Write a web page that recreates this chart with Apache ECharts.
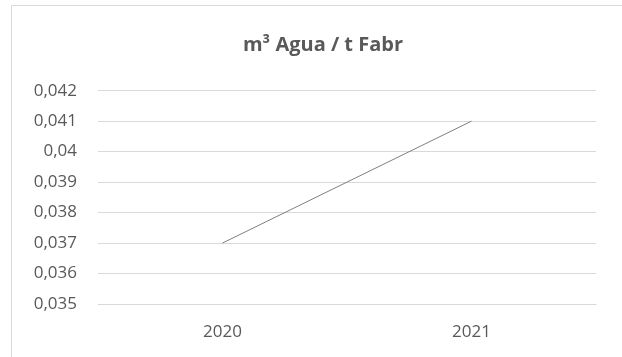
<!DOCTYPE html>
<html>
<head>
<meta charset="utf-8">
<script src="https://cdn.jsdelivr.net/npm/echarts@6/dist/echarts.min.js"></script>
<style>
html,body{margin:0;padding:0;background:#fff;}
#c{width:622px;height:357px;}
</style>
</head>
<body>
<div id="c"></div>
<script>
const categories = ['2020', '2021'];
const values = [0.037, 0.041];
const yTicks = { min: 0.035, max: 0.042, interval: 0.001 };
const titleText = 'm³ Agua / t Fabr';

const chart = echarts.init(document.getElementById('c'), null, { renderer: 'canvas' });
const FONT = '"Open Sans", sans-serif';
chart.setOption({
  animation: false,
  backgroundColor: '#ffffff',
  graphic: [{
    type: 'rect',
    shape: { x: 11.5, y: 5.5, width: 700, height: 400 },
    style: { fill: 'none', stroke: '#d9d9d9', lineWidth: 1 },
    silent: true
  }, {
    type: 'text',
    x: 323,
    y: 45,
    silent: true,
    style: {
      text: titleText,
      align: 'center',
      verticalAlign: 'middle',
      font: 'bold 20px "Open Sans", sans-serif',
      fill: '#595959'
    }
  }],
  grid: { left: 98, right: 26, top: 90.7, bottom: 53, containLabel: false },
  xAxis: {
    type: 'category',
    data: categories,
    boundaryGap: true,
    axisLine: { show: true, lineStyle: { color: '#d9d9d9', width: 1 } },
    axisTick: { show: false },
    axisLabel: { fontFamily: FONT, fontSize: 17, color: '#595959', margin: 20 }
  },
  yAxis: {
    type: 'value',
    min: yTicks.min,
    max: yTicks.max,
    interval: yTicks.interval,
    axisLine: { show: false },
    axisTick: { show: false },
    splitLine: { lineStyle: { color: '#d9d9d9', width: 1 } },
    axisLabel: {
      fontFamily: FONT, fontSize: 17, color: '#595959', margin: 21,
      formatter: function (v) { return String(parseFloat(v.toFixed(3))).replace('.', ','); }
    }
  },
  series: [{
    type: 'line',
    data: values,
    symbol: 'none',
    lineStyle: { color: '#7f7f7f', width: 1 }
  }]
});
</script>
</body>
</html>
